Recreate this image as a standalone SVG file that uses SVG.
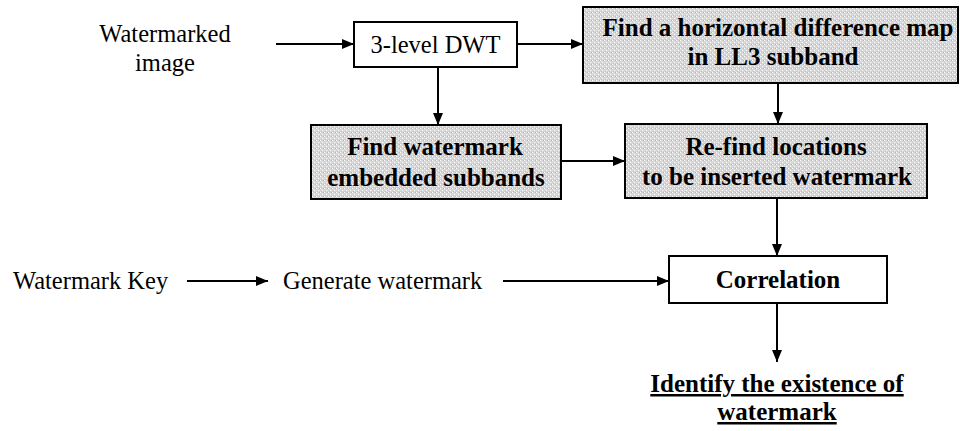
<svg xmlns="http://www.w3.org/2000/svg" width="960" height="431" viewBox="0 0 960 431">
<style>
.t{font-family:"Liberation Serif","Times New Roman",serif;font-size:24.5px;fill:#000}
.b{font-weight:bold;font-size:25px}
.box{stroke:#000;stroke-width:2}
.plain{fill:#fff}
.shade{fill:url(#stip)}
.ln{stroke:#000;stroke-width:2;fill:none}
</style>
<defs>
<pattern id="stip" width="4" height="4" patternUnits="userSpaceOnUse">
<rect width="4" height="4" fill="#d6d6d6"/>
<rect x="0" y="0" width="1" height="1" fill="#fff"/>
<rect x="2" y="2" width="1" height="1" fill="#fff"/>
<rect x="3" y="0" width="1" height="1" fill="#b8b8b8"/>
<rect x="1" y="3" width="1" height="1" fill="#c4c4c4"/>
</pattern>
<marker id="ah" viewBox="0 0 12 10" refX="12" refY="5" markerWidth="12" markerHeight="10" markerUnits="userSpaceOnUse" orient="auto">
<path d="M0,0 L12,5 L0,10 Z" fill="#000"/>
</marker>
</defs>

<g id="n-watermarked-image">
<text class="t" x="165" y="42" text-anchor="middle">Watermarked</text>
<text class="t" x="165" y="71" text-anchor="middle">image</text>
</g>
<g id="n-dwt">
<rect class="box plain" x="354" y="22" width="163" height="45"/>
<text class="t" x="435.5" y="53" text-anchor="middle">3-level DWT</text>
</g>
<g id="n-hdiff">
<rect class="box shade" x="583" y="7" width="375" height="76"/>
<text class="t b" x="778" y="36" text-anchor="middle">Find a horizontal difference map</text>
<text class="t b" x="773" y="65" text-anchor="middle">in LL3 subband</text>
</g>
<g id="n-subbands">
<rect class="box shade" x="311" y="125" width="250" height="74"/>
<text class="t b" x="435" y="155" text-anchor="middle">Find watermark</text>
<text class="t b" x="436" y="186" text-anchor="middle">embedded subbands</text>
</g>
<g id="n-refind">
<rect class="box shade" x="625" y="124" width="302" height="74"/>
<text class="t b" x="776" y="155" text-anchor="middle">Re-find locations</text>
<text class="t b" x="777" y="185" text-anchor="middle">to be inserted watermark</text>
</g>
<g id="n-key">
<text class="t" x="13" y="289">Watermark Key</text>
</g>
<g id="n-gen">
<text class="t" x="283" y="289">Generate watermark</text>
</g>
<g id="n-corr">
<rect class="box plain" x="669" y="256" width="218" height="47"/>
<text class="t b" x="778" y="288" text-anchor="middle">Correlation</text>
</g>
<g id="n-identify">
<text class="t b" x="777" y="392" text-anchor="middle" text-decoration="underline">Identify the existence of</text>
<text class="t b" x="777" y="420" text-anchor="middle" text-decoration="underline">watermark</text>
</g>

<g id="connectors">
<line class="ln" x1="276" y1="44" x2="354" y2="44" marker-end="url(#ah)"/>
<line class="ln" x1="517" y1="44" x2="583" y2="44" marker-end="url(#ah)"/>
<line class="ln" x1="438" y1="67" x2="438" y2="125" marker-end="url(#ah)"/>
<line class="ln" x1="778" y1="83" x2="778" y2="124" marker-end="url(#ah)"/>
<line class="ln" x1="561" y1="161" x2="625" y2="161" marker-end="url(#ah)"/>
<line class="ln" x1="777" y1="198" x2="777" y2="256" marker-end="url(#ah)"/>
<line class="ln" x1="187" y1="281" x2="268" y2="281" marker-end="url(#ah)"/>
<line class="ln" x1="503" y1="281" x2="669" y2="281" marker-end="url(#ah)"/>
<line class="ln" x1="777" y1="303" x2="777" y2="362" marker-end="url(#ah)"/>
</g>
</svg>
